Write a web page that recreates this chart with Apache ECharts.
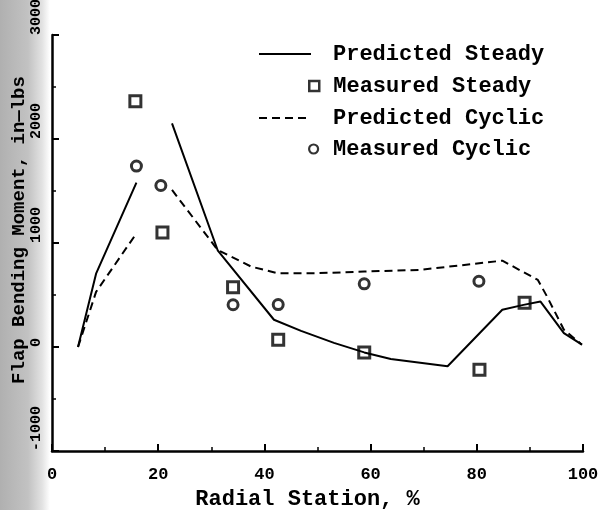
<!DOCTYPE html>
<html>
<head>
<meta charset="utf-8">
<script src="https://cdn.jsdelivr.net/npm/echarts@6/dist/echarts.min.js"></script>
<style>
  html, body { margin: 0; padding: 0; }
  #chart {
    width: 601px;
    height: 510px;
    background: linear-gradient(to right, #b0b0b0 0px, #c2c2c2 28px, #e2e2e2 42px, #ffffff 50px);
  }
</style>
</head>
<body>
<div id="chart"></div>
<script>
// predicted curves (null = gap in the line)
var predSteadyX = [4.9, 8.3, 15.9, 19, 22.6, 31.2, 41.8, 46.9, 53.1, 58.8, 63.8, 74.5, 84.8, 88.8, 92.0, 96.4, 99.8];
var predSteadyY = [0, 705, 1580, null, 2150, 930, 262, 155, 40, -52, -115, -185, 358, 405, 437, 134, 22];

var predCyclicX = [4.9, 8.3, 16.0, 19, 22.6, 31.2, 37.5, 42.5, 50.0, 58.8, 69.4, 79.5, 84.8, 91.5, 93.2, 96.4, 99.8];
var predCyclicY = [0, 530, 1100, null, 1510, 933, 773, 709, 710, 725, 742, 800, 830, 645, 488, 166, 22];

// measured points
var measSteadyX = [15.7, 20.8, 34.1, 42.6, 58.8, 80.5, 89.0];
var measSteadyY = [2364, 1100, 575, 70, -52, -218, 425];

var measCyclicX = [15.9, 20.5, 34.1, 42.6, 58.8, 80.4];
var measCyclicY = [1740, 1553, 406, 408, 607, 632];

var xTicks = [0, 100, 20];      // min, max, step
var yTicks = [-1000, 3000, 1000];

function pairs(xs, ys) {
  var out = [];
  for (var i = 0; i < xs.length; i++) out.push([xs[i], ys[i]]);
  return out;
}

var FONT = '"Liberation Mono", "DejaVu Sans Mono", monospace';

var myChart = echarts.init(document.getElementById('chart'));

function legendAt(name, left, top, w, h, pad, border) {
  var lg = {
    data: [{ name: name }],
    orient: 'vertical',
    left: left,
    top: top,
    itemWidth: w,
    itemHeight: h,
    selectedMode: false,
    padding: 0,
    textStyle: {
      color: '#000',
      fontFamily: FONT,
      fontWeight: 'bold',
      fontSize: 22,
      padding: [0, 0, 0, pad]
    }
  };
  if (border) lg.itemStyle = { borderColor: '#000', borderWidth: border };
  return lg;
}

var option = {
  animation: false,
  backgroundColor: 'transparent',
  grid: {
    left: 52,
    right: 18,
    top: 35,
    bottom: 59,
    outerBoundsMode: 'none'
  },
  legend: [
    legendAt('Predicted Steady', 258, 43, 52, 12, 17),
    legendAt('Measured Steady', 308, 75, 10, 10, 9, 2.5),
    legendAt('Predicted Cyclic', 258, 107, 52, 12, 17),
    legendAt('Measured Cyclic', 308, 138, 9, 9, 10, 2.2)
  ],
  xAxis: {
    type: 'value',
    min: xTicks[0],
    max: xTicks[1],
    interval: xTicks[2],
    name: 'Radial Station, %',
    nameLocation: 'middle',
    nameGap: 37,
    nameMoveOverlap: false,
    nameTextStyle: {
      color: '#000',
      fontFamily: FONT,
      fontWeight: 'bold',
      fontSize: 22,
      padding: [0, 20, 0, 0]
    },
    axisLine: { onZero: false, lineStyle: { color: '#000', width: 2.5 } },
    axisTick: { inside: true, length: 7, lineStyle: { color: '#000', width: 2 } },
    minorTick: { show: true, splitNumber: 2, length: 4, lineStyle: { color: '#000', width: 1.5 } },
    splitLine: { show: false },
    axisLabel: {
      color: '#000',
      fontFamily: FONT,
      fontWeight: 'bold',
      fontSize: 17,
      margin: 15
    }
  },
  yAxis: {
    type: 'value',
    min: yTicks[0],
    max: yTicks[1],
    interval: yTicks[2],
    name: 'Flap Bending Moment, in\u2014lbs',
    nameLocation: 'middle',
    nameGap: 23,
    nameMoveOverlap: false,
    nameTextStyle: {
      color: '#000',
      fontFamily: FONT,
      fontWeight: 'bold',
      fontSize: 19,
      padding: [0, 0, 0, 26]
    },
    axisLine: { onZero: false, lineStyle: { color: '#000', width: 2.5 } },
    axisTick: { inside: true, length: 7, lineStyle: { color: '#000', width: 2 } },
    minorTick: { show: true, splitNumber: 2, length: 4, lineStyle: { color: '#000', width: 1.5 } },
    splitLine: { show: false },
    axisLabel: {
      color: '#000',
      fontFamily: FONT,
      fontWeight: 'bold',
      fontSize: 15,
      rotate: 90,
      align: 'left',
      verticalAlign: 'middle',
      margin: 16,
      formatter: function (v) { return String(v); }
    }
  },
  series: [
    {
      name: 'Predicted Steady',
      type: 'line',
      data: pairs(predSteadyX, predSteadyY),
      showSymbol: false,
      symbol: 'none',
      connectNulls: false,
      itemStyle: { color: 'transparent', opacity: 0 },
      lineStyle: { color: '#000', width: 2 }
    },
    {
      name: 'Measured Steady',
      type: 'scatter',
      data: pairs(measSteadyX, measSteadyY),
      symbol: 'rect',
      symbolSize: 11,
      z: 5,
      itemStyle: { color: 'transparent', borderColor: '#000', borderWidth: 3 }
    },
    {
      name: 'Predicted Cyclic',
      type: 'line',
      data: pairs(predCyclicX, predCyclicY),
      showSymbol: false,
      symbol: 'none',
      connectNulls: false,
      itemStyle: { color: 'transparent', opacity: 0 },
      lineStyle: { color: '#000', width: 2, type: [8, 5] }
    },
    {
      name: 'Measured Cyclic',
      type: 'scatter',
      data: pairs(measCyclicX, measCyclicY),
      symbol: 'circle',
      symbolSize: 10,
      z: 5,
      itemStyle: { color: 'transparent', borderColor: '#000', borderWidth: 3 }
    }
  ]
};

myChart.setOption(option);
</script>
</body>
</html>
